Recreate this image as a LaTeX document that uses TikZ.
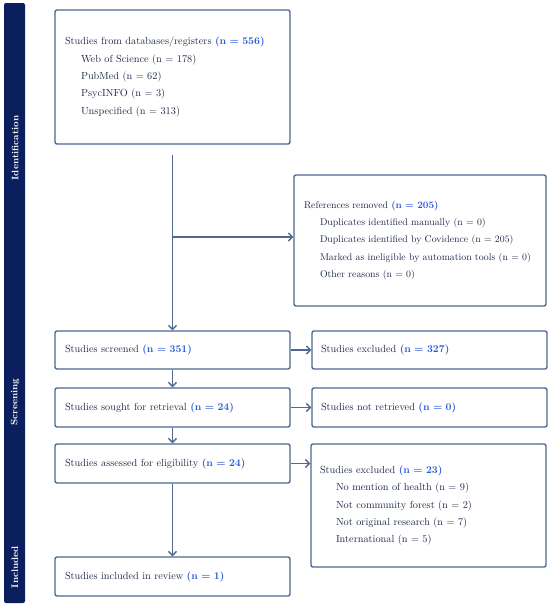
\documentclass[tikz,border=0pt]{standalone}
\usetikzlibrary{arrows.meta,calc}
\definecolor{navy}{HTML}{0B1F5E}
\definecolor{boxc}{HTML}{4E6890}
\definecolor{nblue}{HTML}{2C5BD6}
\definecolor{txt}{HTML}{1E2A4A}
\newcommand{\nv}[1]{\textcolor{nblue}{\textbf{#1}}}
\newcommand{\sub}[1]{\hspace*{16pt}\mbox{#1}}
\begin{document}
\begin{tikzpicture}[x=1pt,y=-1pt,
  box/.style={draw=boxc,line width=1.4pt,rounded corners=2pt,align=left,
    font=\fontsize{10.3}{17.3}\selectfont,text=txt,inner xsep=10pt,anchor=center},
  lbox/.style={box,minimum width=235pt,text width=215pt},
  rbox/.style={box,minimum width=235pt,text width=217pt,inner xsep=9pt},
  conn/.style={draw=boxc,line width=1.4pt,-{Straight Barb[length=4pt,width=8pt]}},
  side/.style={text=white,font=\fontsize{9.4}{10}\selectfont\bfseries,rotate=90}]
\path[use as bounding box,fill=white] (0,0) rectangle (550,608);
\fill[navy,rounded corners=2pt] (4,3) rectangle (25,603);
\node[side] (lid) at (15,148) {Identification};
\node[side] (lsc) at (15,402) {Screening};
\node[side] (lin) at (15,567) {Included};

\node[lbox,minimum height=134pt] (db) at (172.5,77) {Studies from databases/registers \nv{(n = 556)}\\
\sub{Web of Science (n = 178)}\\
\sub{PubMed (n = 62)}\\
\sub{PsycINFO (n = 3)}\\
\sub{Unspecified (n = 313)}};
\node[box,font=\fontsize{9.8}{17.3}\selectfont,minimum width=252pt,text width=232pt,minimum height=131pt] (rm) at (420,240.5) {References removed \nv{(n = 205)}\\
\sub{Duplicates identified manually (n = 0)}\\
\sub{Duplicates identified by Covidence (n = 205)}\\
\sub{Marked as ineligible by automation tools (n = 0)}\\
\sub{Other reasons (n = 0)}};
\node[lbox,minimum height=38pt] (sc) at (172.5,350) {Studies screened \nv{(n = 351)}};
\node[lbox,minimum height=39pt] (so) at (172.5,407.5) {Studies sought for retrieval \nv{(n = 24)}};
\node[lbox,minimum height=39pt] (as) at (172.5,463.5) {Studies assessed for eligibility \nv{(n = 24)}};
\node[lbox,minimum height=39pt] (inc) at (172.5,576.5) {Studies included in review \nv{(n = 1)}};
\node[rbox,minimum height=38pt] (ex1) at (429.5,350) {Studies excluded \nv{(n = 327)}};
\node[rbox,minimum height=39pt] (nr) at (429.5,407.5) {Studies not retrieved \nv{(n = 0)}};
\node[rbox,minimum height=123pt] (ex2) at (428.5,505.5) {Studies excluded \nv{(n = 23)}\\
\sub{No mention of health (n = 9)}\\
\sub{Not community forest (n = 2)}\\
\sub{Not original research (n = 7)}\\
\sub{International (n = 5)}};

\coordinate (top) at (172.5,155);
\coordinate (br) at (172.5,237);
\draw[conn] (top) -- (sc.north);
\draw[conn] (br) -- (br -| rm.west);
\draw[conn] (sc) -- (so);
\draw[conn] (so) -- (as);
\draw[conn] (as) -- (inc);
\draw[conn] (sc) -- (ex1);
\draw[conn] (so) -- (nr);
\draw[conn] (as.east) -- (as.east -| ex2.west);
\end{tikzpicture}
\end{document}
